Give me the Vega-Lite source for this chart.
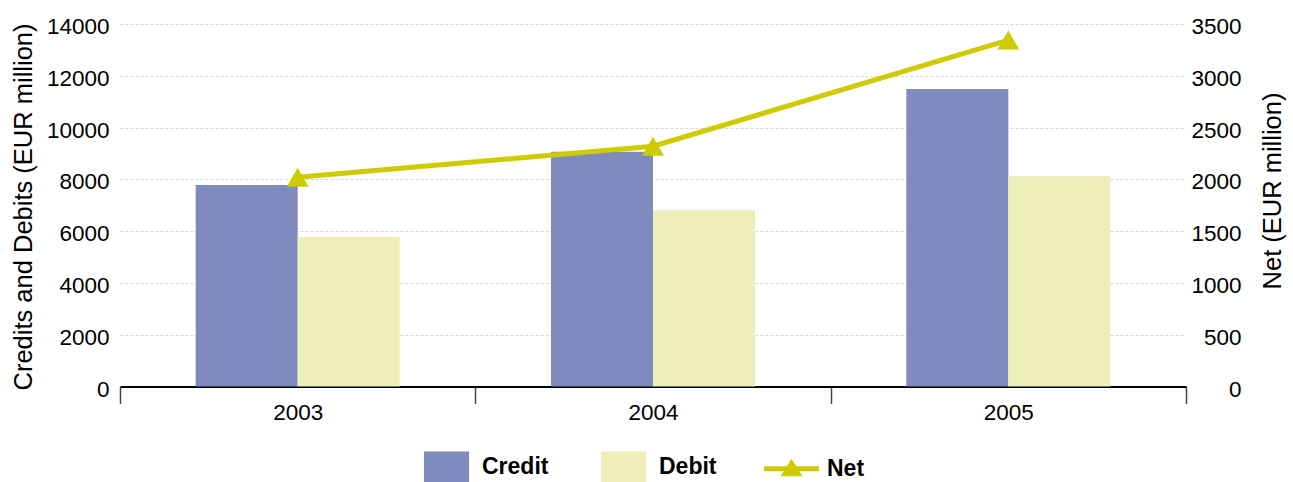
{
  "$schema": "https://vega.github.io/schema/vega-lite/v6.json",
  "width": 1066,
  "height": 362.5,
  "autosize": {"type": "none"},
  "padding": {"left": 120, "top": 24, "right": 107, "bottom": 95.5},
  "background": "white",
  "config": {
    "view": {"stroke": null},
    "font": "Liberation Sans",
    "axis": {
      "labelFont": "Liberation Sans",
      "labelFontSize": 22.5,
      "labelColor": "#000",
      "titleFont": "Liberation Sans",
      "titleFontSize": 25.5,
      "titleFontWeight": "normal",
      "titleColor": "#000"
    }
  },
  "datasets": {
    "bars": [
      {"year": "2003", "type": "Credit", "value": 7780},
      {"year": "2003", "type": "Debit", "value": 5770},
      {"year": "2004", "type": "Credit", "value": 9070},
      {"year": "2004", "type": "Debit", "value": 6810},
      {"year": "2005", "type": "Credit", "value": 11490},
      {"year": "2005", "type": "Debit", "value": 8130}
    ],
    "net": [
      {"year": "2003", "net": 2020},
      {"year": "2004", "net": 2320},
      {"year": "2005", "net": 3345}
    ]
  },
  "layer": [
    {
      "data": {"name": "bars"},
      "mark": {"type": "bar"},
      "encoding": {
        "x": {
          "field": "year",
          "type": "nominal",
          "scale": {"paddingInner": 0, "paddingOuter": 0},
          "axis": {
            "title": null,
            "labelAngle": 0,
            "tickBand": "extent",
            "ticks": true,
            "tickSize": 17,
            "tickColor": "#444",
            "tickWidth": 1.5,
            "domain": true,
            "domainColor": "#000",
            "domainWidth": 2,
            "labelPadding": -2,
            "grid": false
          }
        },
        "xOffset": {
          "field": "type",
          "type": "nominal",
          "sort": ["Credit", "Debit"],
          "scale": {"paddingInner": 0, "paddingOuter": 0.742}
        },
        "y": {
          "field": "value",
          "type": "quantitative",
          "scale": {"domain": [0, 14000], "nice": false},
          "axis": {
            "title": "Credits and Debits (EUR million)",
            "values": [0, 2000, 4000, 6000, 8000, 10000, 12000, 14000],
            "format": "d",
            "domain": false,
            "ticks": false,
            "labelPadding": 11,
            "labelOffset": 2.5,
            "grid": true,
            "gridColor": "#d6d6d6",
            "gridDash": [3, 2],
            "gridWidth": 1,
            "titleAngle": 270,
            "titleX": -96.5,
            "titleY": 182.5,
            "titleAlign": "center",
            "titleBaseline": "middle"
          }
        },
        "color": {
          "field": "type",
          "type": "nominal",
          "scale": {
            "domain": ["Credit", "Debit", "Net"],
            "range": ["#7f8abe", "#eeeebb", "#cccc00"]
          },
          "legend": {
            "orient": "none",
            "legendX": 299,
            "legendY": 415,
            "direction": "horizontal",
            "title": null,
            "padding": 0,
            "symbolSize": 3025,
            "symbolStrokeWidth": 0,
            "labelFont": "Liberation Sans",
            "labelFontSize": 23,
            "labelFontWeight": "bold",
            "labelColor": "#000",
            "labelOffset": 8,
            "columnPadding": 47,
            "encode": {
              "symbols": {
                "update": {
                  "shape": {"signal": "datum.value === 'Net' ? 'M-1,-0.09H1V0.09H-1Z M-0.4,0.276L0,-0.364L0.4,0.276Z' : 'M-0.82,-0.564H0.82V0.564H-0.82Z'"},
                  "fill": {"signal": "scale('color', datum.value)"},
                  "opacity": {"value": 1},
                  "fillOpacity": {"value": 1},
                  "strokeWidth": {"value": 0}
                }
              }
            }
          }
        }
      }
    },
    {
      "data": {"name": "net"},
      "mark": {
        "type": "line",
        "strokeWidth": 5,
        "point": {"shape": "triangle-up", "size": 484, "filled": true, "opacity": 1}
      },
      "encoding": {
        "x": {"field": "year", "type": "nominal"},
        "y": {
          "field": "net",
          "type": "quantitative",
          "scale": {"domain": [0, 3500], "nice": false},
          "axis": {
            "orient": "right",
            "title": "Net (EUR million)",
            "values": [0, 500, 1000, 1500, 2000, 2500, 3000, 3500],
            "format": "d",
            "domain": false,
            "ticks": false,
            "grid": false,
            "labelAlign": "right",
            "labelPadding": 55,
            "labelOffset": 2.5,
            "titleAngle": 270,
            "titleX": 86.5,
            "titleY": 166.5,
            "titleAlign": "center",
            "titleBaseline": "middle"
          }
        },
        "color": {"datum": "Net"}
      }
    }
  ],
  "resolve": {"scale": {"y": "independent"}}
}
